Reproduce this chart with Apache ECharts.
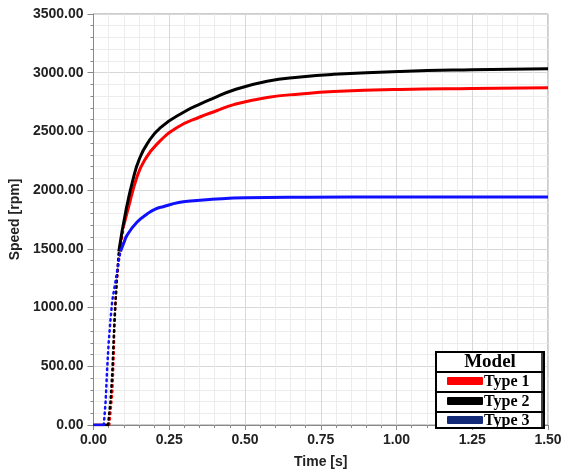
<!DOCTYPE html>
<html>
<head>
<meta charset="utf-8">
<script src="https://cdn.jsdelivr.net/npm/echarts@6/dist/echarts.min.js"></script>
<style>
html,body{margin:0;padding:0;background:#fff;}
#chart{width:571px;height:474px;}
</style>
</head>
<body>
<div id="chart"></div>
<script>
// Type 1 (red): time [s] and speed [rpm]
var time1  = [0, 0.052, 0.062, 0.067, 0.069, 0.076, 0.083, 0.1, 0.114, 0.144, 0.169, 0.21, 0.276, 0.353, 0.402, 0.463, 0.573, 0.683, 0.792, 1.012, 1.25, 1.5];
var speed1 = [0, 0, 283, 617, 894, 1200, 1394, 1700, 1839, 2117, 2256, 2394, 2533, 2625, 2672, 2728, 2789, 2819, 2839, 2858, 2866, 2872];
// Type 2 (black)
var time2  = [0, 0.048, 0.056, 0.062, 0.067, 0.073, 0.078, 0.0835, 0.108, 0.133, 0.150, 0.177, 0.221, 0.303, 0.353, 0.391, 0.463, 0.573, 0.683, 0.792, 1.012, 1.25, 1.5];
var speed2 = [0, 0, 200, 450, 760, 1061, 1283, 1478, 1839, 2117, 2256, 2394, 2533, 2672, 2735, 2778, 2853, 2928, 2964, 2986, 3011, 3025, 3033];
// Type 3 (blue)
var time3  = [0, 0.034, 0.04, 0.045, 0.05, 0.056, 0.062, 0.073, 0.083, 0.089, 0.1, 0.111, 0.144, 0.177, 0.204, 0.232, 0.281, 0.32, 0.391, 0.5, 0.7, 1.0, 1.5];
var speed3 = [0, 0, 200, 478, 700, 894, 1061, 1228, 1394, 1478, 1550, 1617, 1728, 1797, 1839, 1861, 1894, 1908, 1922, 1935, 1940, 1942, 1942];
// index range of the fast (sparsely sampled, dotted-looking) rise
var riseRange1 = [1, 7];
var riseRange2 = [1, 7];
var riseRange3 = [1, 9];

var seriesNames = ['Type 1', 'Type 2', 'Type 3'];
var lineColors = ['#ff0000', '#000000', '#1010ff'];
var swatchColors = ['#ff0000', '#000000', '#132a78'];
var legendTitle = 'Model';

var times = [time1, time2, time3];
var speeds = [speed1, speed2, speed3];
var rises = [riseRange1, riseRange2, riseRange3];

function pairs(ts, vs, a, b){
  var out = [];
  for (var i = a; i <= b; i++) out.push([ts[i], vs[i]]);
  return out;
}

var chart = echarts.init(document.getElementById('chart'));
var labelFont = {color:'#222', fontSize:14, fontWeight:'bold', fontFamily:'Liberation Sans, Arial, sans-serif'};
var nameFont = {color:'#222', fontSize:14, fontWeight:'bold', fontFamily:'Liberation Sans, Arial, sans-serif'};

var series = [];
seriesNames.forEach(function(n, i){
  var ts = times[i], vs = speeds[i], r = rises[i], last = ts.length - 1;
  series.push({name:n, type:'line', data:pairs(ts, vs, 0, r[0]), showSymbol:false,
    lineStyle:{color:lineColors[i], width:2.5}, itemStyle:{color:lineColors[i]}, z:3+i});
  series.push({name:n, type:'line', data:pairs(ts, vs, r[0], r[1]), showSymbol:false,
    lineStyle:{color:lineColors[i], width:2.5, type:[1.5, 4], cap:'round'}, itemStyle:{color:lineColors[i]}, z:3+i});
  series.push({name:n, type:'line', data:pairs(ts, vs, r[1], last), showSymbol:false, smooth:0.5,
    lineStyle:{color:lineColors[i], width:3}, itemStyle:{color:lineColors[i]}, z:3+i});
});

var graphics = [];
var lx = 436, ly = 352, lw = 108, lh = 76;
graphics.push({type:'rect', shape:{x:lx, y:ly, width:lw, height:lh}, style:{fill:'#fff', stroke:'#000', lineWidth:2}, z:100});
graphics.push({type:'line', shape:{x1:lx+lw-2, y1:ly, x2:lx+lw-2, y2:ly+lh}, style:{stroke:'#000', lineWidth:1.5}, z:101});
[372, 392, 412].forEach(function(y){
  graphics.push({type:'line', shape:{x1:lx, y1:y, x2:lx+lw, y2:y}, style:{stroke:'#000', lineWidth:2}, z:101});
});
graphics.push({type:'text', x:lx+lw/2, y:362, style:{text:legendTitle, font:'bold 19px "Liberation Serif", "Times New Roman", serif', fill:'#000', textAlign:'center', textVerticalAlign:'middle'}, z:102});
var rowCenters = [381, 401, 420];
seriesNames.forEach(function(n,i){
  graphics.push({type:'rect', shape:{x:447, y:rowCenters[i]-4, width:36, height:8, r:1}, style:{fill:swatchColors[i]}, z:102});
  graphics.push({type:'text', x:484, y:rowCenters[i]+1, style:{text:n, font:'bold 16px "Liberation Serif", "Times New Roman", serif', fill:'#000', textAlign:'left', textVerticalAlign:'middle'}, z:102});
});

chart.setOption({
  animation:false,
  backgroundColor:'#fff',
  grid:{left:93, right:23, top:14, bottom:40, show:true, borderColor:'#999', borderWidth:1},
  xAxis:{
    type:'value', min:0, max:1.5, interval:0.25,
    name:'Time [s]', nameLocation:'middle', nameGap:30, nameTextStyle:nameFont,
    axisLine:{show:true, lineStyle:{color:'#888', width:1}},
    axisTick:{show:true, length:5, lineStyle:{color:'#888'}},
    minorTick:{show:true, splitNumber:5, length:3, lineStyle:{color:'#888'}},
    splitLine:{show:true, lineStyle:{color:'#d8d8d8', width:1}},
    minorSplitLine:{show:true, lineStyle:{color:'#ececec', width:1}},
    axisLabel:Object.assign({margin:8, formatter:function(v){ return v.toFixed(2); }}, labelFont)
  },
  yAxis:{
    type:'value', min:0, max:3500, interval:500,
    name:'Speed [rpm]', nameLocation:'middle', nameGap:64, nameRotate:90, nameTextStyle:nameFont,
    axisLine:{show:true, lineStyle:{color:'#888', width:1}},
    axisTick:{show:true, length:6, lineStyle:{color:'#888'}},
    minorTick:{show:true, splitNumber:5, length:3, lineStyle:{color:'#888'}},
    splitLine:{show:true, lineStyle:{color:'#d8d8d8', width:1}},
    minorSplitLine:{show:true, lineStyle:{color:'#ececec', width:1}},
    axisLabel:Object.assign({margin:10, formatter:function(v){ return v.toFixed(2); }}, labelFont)
  },
  series: series,
  graphic: graphics
});
</script>
</body>
</html>
